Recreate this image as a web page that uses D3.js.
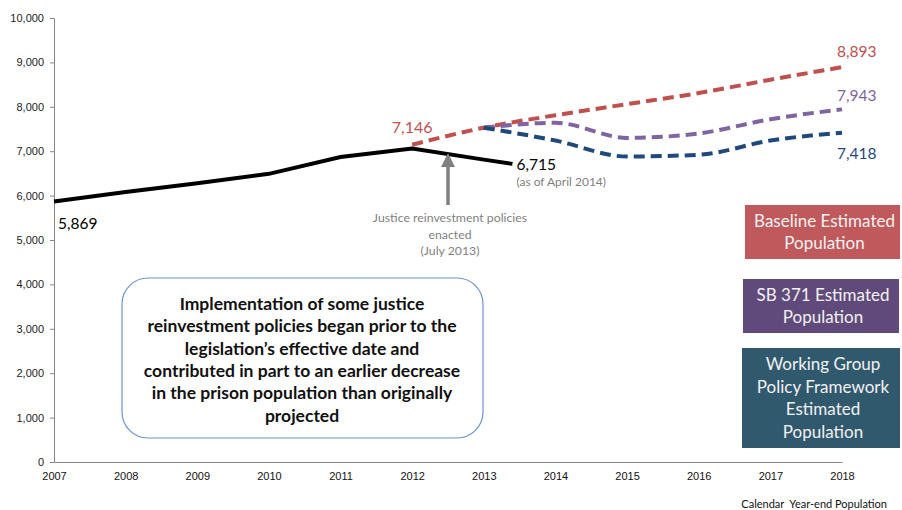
<!DOCTYPE html>
<html>
<head>
<meta charset="utf-8">
<script src="https://cdn.jsdelivr.net/npm/d3@7"></script>
<style>
  body { margin: 0; background: #fff; }
  svg { display: block; font-family: Lato, "Open Sans", sans-serif; }
</style>
</head>
<body>
<svg id="chart" width="902" height="510"></svg>
<script>
// --- data ---
const yearTicks = [2007, 2008, 2009, 2010, 2011, 2012, 2013, 2014, 2015, 2016, 2017, 2018];
const valueTicks = [0, 1000, 2000, 3000, 4000, 5000, 6000, 7000, 8000, 9000, 10000];

// actual population (last point = April 2014)
const actualYears = [2007, 2008, 2009, 2010, 2011, 2012, 2013, 2013.4];
const actualValues = [5869, 6080, 6280, 6490, 6870, 7060, 6810, 6715];

// projections
const baselineYears = [2012, 2013, 2014, 2015, 2016, 2017, 2018];
const baselineValues = [7146, 7530, 7810, 8060, 8310, 8610, 8893];
const sb371Years = [2013, 2014, 2015, 2016, 2017, 2018];
const sb371Values = [7530, 7640, 7300, 7400, 7720, 7943];
const workingYears = [2013, 2014, 2015, 2016, 2017, 2018];
const workingValues = [7530, 7240, 6880, 6920, 7240, 7418];

const legendItems = [
  { lines: ["Baseline Estimated", "Population"], color: "#c0595c" },
  { lines: ["SB 371 Estimated", "Population"], color: "#604a7b" },
  { lines: ["Working Group", "Policy Framework", "Estimated", "Population"], color: "#31596e" }
];

const noteLines = [
  "Implementation of some justice",
  "reinvestment policies began prior to the",
  "legislation\u2019s effective date and",
  "contributed in part to an earlier decrease",
  "in the prison population than originally",
  "projected"
];

// --- layout ---
const width = 902, height = 510;
const margin = { top: 18, right: 60, bottom: 48, left: 54 };

const svg = d3.select("#chart");

const x = d3.scaleLinear()
  .domain([2007, 2018])
  .range([margin.left, width - margin.right]);
const y = d3.scaleLinear()
  .domain([0, 10000])
  .range([height - margin.bottom, margin.top]);

const red = "#c0504d", purple = "#8064a2", blue = "#1f497d";

// y axis
const yAxis = svg.append("g")
  .attr("transform", `translate(${margin.left},0)`)
  .call(d3.axisLeft(y).tickValues(valueTicks).tickSize(4).tickPadding(6).tickFormat(d3.format(",")));
yAxis.select(".domain").attr("stroke", "#868686");
yAxis.selectAll(".tick line").attr("stroke", "#868686");
yAxis.selectAll("text").attr("font-size", 11).attr("fill", "#222");

// x axis
const xAxis = svg.append("g")
  .attr("transform", `translate(0,${y(0)})`)
  .call(d3.axisBottom(x).tickValues(yearTicks).tickSize(0).tickPadding(10).tickFormat(d3.format("d")));
xAxis.select(".domain").attr("stroke", "#868686");
xAxis.selectAll("text").attr("font-size", 11).attr("fill", "#111");

svg.append("text")
  .attr("x", 887).attr("y", 508)
  .attr("text-anchor", "end")
  .attr("font-size", 11).attr("fill", "#111")
  .style("white-space", "pre")
  .text("Calendar  Year-end Population");

// lines
const straight = d3.line().x(d => x(d[0])).y(d => y(d[1]));
const smooth = d3.line().x(d => x(d[0])).y(d => y(d[1])).curve(d3.curveMonotoneX);

function drawSeries(years, values, color, dashed) {
  svg.append("path")
    .datum(d3.zip(years, values))
    .attr("fill", "none")
    .attr("stroke", color)
    .attr("stroke-width", 4)
    .attr("stroke-dasharray", dashed ? "11,6" : null)
    .attr("d", dashed ? smooth : straight);
}

drawSeries(baselineYears, baselineValues, red, true);
drawSeries(sb371Years, sb371Values, purple, true);
drawSeries(workingYears, workingValues, blue, true);
drawSeries(actualYears, actualValues, "#000", false);

// value labels
const lastActual = actualValues.length - 1;
svg.append("text").attr("x", x(2007) + 4).attr("y", y(actualValues[0]) + 28)
  .attr("font-size", 15.5).attr("fill", "#000").text(d3.format(",")(actualValues[0]));
svg.append("text").attr("x", x(2012)).attr("y", y(baselineValues[0]) - 12)
  .attr("text-anchor", "middle").attr("font-size", 16).attr("fill", red)
  .text(d3.format(",")(baselineValues[0]));
svg.append("text").attr("x", x(actualYears[lastActual]) + 4).attr("y", y(actualValues[lastActual]) + 6)
  .attr("font-size", 15.5).attr("fill", "#000").text(d3.format(",")(actualValues[lastActual]));
svg.append("text").attr("x", x(actualYears[lastActual]) + 4).attr("y", y(actualValues[lastActual]) + 22)
  .attr("font-size", 12).attr("fill", "#7f7f7f").text("(as of April 2014)");

const endLabels = [
  { v: baselineValues[baselineValues.length - 1], color: red, dy: -10 },
  { v: sb371Values[sb371Values.length - 1], color: purple, dy: -8 },
  { v: workingValues[workingValues.length - 1], color: blue, dy: 26 }
];
endLabels.forEach(d => {
  svg.append("text").attr("x", x(2018) - 5).attr("y", y(d.v) + d.dy)
    .attr("font-size", 15.5).attr("fill", d.color).text(d3.format(",")(d.v));
});

// arrow annotation
const arrowX = x(2012.5);
svg.append("defs").append("marker")
  .attr("id", "head").attr("viewBox", "0 0 10 10")
  .attr("refX", 5).attr("refY", 5)
  .attr("markerWidth", 4).attr("markerHeight", 4)
  .attr("orient", "auto")
  .append("path").attr("d", "M0,0 L10,5 L0,10 z").attr("fill", "#808080");
svg.append("line")
  .attr("x1", arrowX).attr("x2", arrowX)
  .attr("y1", 205).attr("y2", 160)
  .attr("stroke", "#808080").attr("stroke-width", 3.5)
  .attr("marker-end", "url(#head)");
["Justice reinvestment policies", "enacted", "(July 2013)"].forEach((t, i) => {
  svg.append("text").attr("x", arrowX + 2).attr("y", 222 + i * 16.5)
    .attr("text-anchor", "middle").attr("font-size", 12.3).attr("fill", "#7f7f7f").text(t);
});

// note box
svg.append("rect")
  .attr("x", 122).attr("y", 278).attr("width", 361).attr("height", 160)
  .attr("rx", 26).attr("fill", "#fff")
  .attr("stroke", "#6b93cf").attr("stroke-width", 1.2);
noteLines.forEach((t, i) => {
  svg.append("text").attr("x", 302).attr("y", 310 + i * 22.3)
    .attr("text-anchor", "middle").attr("font-size", 17.5).attr("font-weight", "bold")
    .attr("fill", "#111").text(t);
});

// legend boxes
const legendBoxes = [
  { x: 745, y: 205, w: 155, h: 54 },
  { x: 743, y: 279, w: 156, h: 54 },
  { x: 742, y: 348, w: 158, h: 100 }
];
legendItems.forEach((item, i) => {
  const b = legendBoxes[i];
  svg.append("rect").attr("x", b.x).attr("y", b.y).attr("width", b.w).attr("height", b.h)
    .attr("fill", item.color);
  const lh = 22.5;
  const top = b.y + b.h / 2 - (item.lines.length * lh) / 2;
  item.lines.forEach((t, j) => {
    svg.append("text").attr("x", b.x + b.w / 2 + 2).attr("y", top + j * lh + 17)
      .attr("text-anchor", "middle").attr("font-size", 17).attr("fill", "#f2f2f2").text(t);
  });
});
</script>
</body>
</html>
